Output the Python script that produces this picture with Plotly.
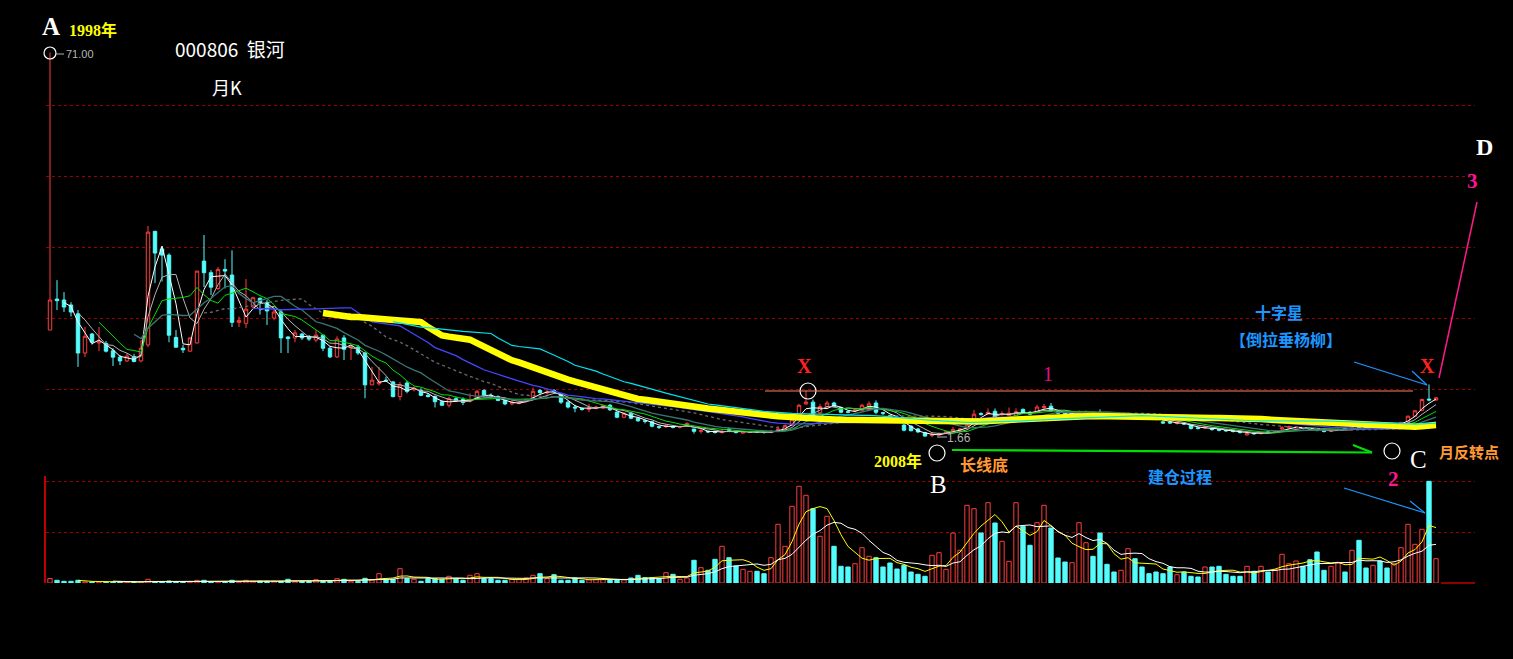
import math
import pandas as pd
import plotly.graph_objects as go

# ---------------- data (monthly candles, 000806, forward-adjusted) ----------------
opens = [4.73, 6.40, 6.34, 6.04, 5.54, 3.78, 4.55, 4.17, 4.15, 3.86,
         3.63, 3.50, 3.65, 3.50, 4.09, 12.40, 10.44, 9.83, 4.40, 3.96,
         3.85, 4.17, 9.27, 8.28, 7.10, 8.55, 8.09, 5.10, 5.05, 5.93,
         6.45, 6.20, 5.32, 5.64, 4.42, 4.38, 4.55, 4.45, 4.29, 4.50,
         3.96, 3.64, 4.38, 3.98, 4.00, 3.78, 2.77, 2.80, 2.90, 2.85,
         2.47, 2.82, 2.64, 2.63, 2.50, 2.47, 2.35, 2.27, 2.42, 2.40,
         2.36, 2.42, 2.62, 2.49, 2.47, 2.38, 2.30, 2.31, 2.37, 2.45,
         2.62, 2.56, 2.62, 2.52, 2.34, 2.23, 2.20, 2.18, 2.20, 2.21,
         2.27, 2.12, 2.02, 2.10, 2.00, 1.95, 1.93, 1.84, 1.84, 1.84,
         1.83, 1.86, 1.80, 1.76, 1.76, 1.76, 1.74, 1.80, 1.76, 1.73,
         1.74, 1.76, 1.75, 1.74, 1.77, 1.80, 1.87, 2.06, 2.30, 2.34,
         2.11, 2.24, 2.32, 2.22, 2.13, 2.15, 2.16, 2.18, 2.32, 2.11,
         2.05, 2.02, 1.87, 1.85, 1.80, 1.74, 1.69, 1.70, 1.73, 1.76,
         1.78, 1.82, 1.98, 2.09, 2.09, 2.14, 2.07, 2.05, 2.02, 2.18,
         2.12, 2.12, 2.22, 2.25, 2.13, 2.11, 2.08, 2.10, 2.11, 2.11,
         2.12, 2.09, 2.06, 2.03, 2.02, 2.03, 2.03, 2.03, 2.00, 1.93,
         1.92, 1.90, 1.90, 1.88, 1.82, 1.82, 1.81, 1.79, 1.78, 1.77,
         1.76, 1.70, 1.73, 1.72, 1.75, 1.74, 1.80, 1.82, 1.82, 1.82,
         1.81, 1.79, 1.77, 1.76, 1.78, 1.81, 1.81, 1.84, 1.84, 1.83,
         1.85, 1.88, 1.86, 1.87, 1.93, 2.04, 2.16, 2.41, 2.39]

highs = [71.00, 7.70, 6.85, 6.21, 5.75, 4.87, 4.60, 4.87, 4.25, 3.96,
         3.71, 3.78, 3.75, 4.29, 13.07, 12.45, 10.75, 10.00, 4.73, 4.09,
         4.40, 8.41, 11.96, 8.49, 8.75, 9.45, 10.30, 5.40, 7.78, 6.55,
         6.50, 6.34, 5.86, 5.75, 4.45, 4.73, 4.60, 4.50, 4.73, 4.50,
         4.05, 4.45, 4.50, 4.09, 4.09, 3.82, 3.30, 3.30, 3.00, 2.88,
         2.85, 2.88, 2.72, 2.68, 2.55, 2.50, 2.38, 2.47, 2.47, 2.45,
         2.55, 2.64, 2.66, 2.55, 2.50, 2.40, 2.38, 2.35, 2.42, 2.70,
         2.66, 2.64, 2.66, 2.55, 2.36, 2.28, 2.22, 2.30, 2.26, 2.28,
         2.30, 2.14, 2.12, 2.12, 2.02, 1.97, 1.95, 1.86, 1.88, 1.86,
         1.86, 1.92, 1.80, 1.80, 1.77, 1.77, 1.80, 1.82, 1.77, 1.76,
         1.77, 1.77, 1.76, 1.78, 1.85, 1.88, 1.97, 2.30, 2.62, 2.40,
         2.30, 2.37, 2.35, 2.24, 2.16, 2.20, 2.30, 2.36, 2.38, 2.13,
         2.07, 2.03, 1.89, 1.87, 1.82, 1.75, 1.74, 1.74, 1.77, 1.84,
         1.82, 1.89, 2.17, 2.12, 2.20, 2.20, 2.14, 2.22, 2.20, 2.20,
         2.14, 2.28, 2.30, 2.32, 2.16, 2.13, 2.12, 2.16, 2.16, 2.13,
         2.18, 2.11, 2.08, 2.06, 2.12, 2.05, 2.05, 2.05, 2.02, 1.95,
         1.94, 1.93, 1.92, 1.89, 1.84, 1.86, 1.83, 1.80, 1.79, 1.78,
         1.77, 1.74, 1.74, 1.75, 1.76, 1.78, 1.85, 1.86, 1.85, 1.83,
         1.82, 1.80, 1.78, 1.79, 1.81, 1.82, 1.84, 1.86, 1.85, 1.86,
         1.86, 1.89, 1.90, 1.93, 2.05, 2.16, 2.42, 2.78, 2.46]

lows = [4.73, 5.75, 5.64, 5.40, 3.30, 3.63, 4.10, 3.85, 3.80, 3.33,
        3.36, 3.46, 3.45, 3.45, 4.00, 7.48, 7.60, 4.20, 4.00, 3.78,
        3.82, 4.15, 7.19, 6.66, 6.99, 7.10, 4.87, 4.87, 4.82, 5.85,
        5.50, 4.97, 5.20, 3.78, 3.78, 4.20, 4.30, 4.25, 4.20, 3.85,
        3.60, 3.60, 3.53, 3.53, 3.71, 2.43, 2.77, 2.75, 2.85, 2.45,
        2.38, 2.55, 2.60, 2.48, 2.45, 2.22, 2.25, 2.22, 2.35, 2.27,
        2.33, 2.40, 2.45, 2.42, 2.36, 2.27, 2.27, 2.29, 2.35, 2.42,
        2.52, 2.52, 2.55, 2.30, 2.20, 2.12, 2.15, 2.12, 2.18, 2.19,
        2.15, 2.00, 2.00, 1.98, 1.93, 1.90, 1.83, 1.80, 1.82, 1.81,
        1.81, 1.84, 1.72, 1.72, 1.73, 1.72, 1.72, 1.77, 1.72, 1.72,
        1.73, 1.73, 1.72, 1.73, 1.75, 1.78, 1.85, 2.03, 2.28, 2.02,
        2.08, 2.22, 2.22, 2.10, 2.10, 2.12, 2.15, 2.16, 2.08, 2.06,
        2.00, 1.95, 1.76, 1.76, 1.73, 1.67, 1.66, 1.69, 1.72, 1.75,
        1.76, 1.80, 1.96, 2.05, 2.07, 2.01, 2.05, 2.04, 2.01, 2.09,
        2.06, 2.10, 2.18, 2.13, 2.08, 2.07, 2.06, 2.06, 2.08, 2.07,
        2.09, 2.05, 2.01, 2.01, 2.01, 1.99, 2.00, 1.99, 1.96, 1.89,
        1.89, 1.88, 1.87, 1.79, 1.79, 1.80, 1.77, 1.76, 1.75, 1.74,
        1.72, 1.69, 1.70, 1.71, 1.72, 1.73, 1.78, 1.80, 1.81, 1.79,
        1.78, 1.76, 1.74, 1.75, 1.77, 1.79, 1.80, 1.82, 1.82, 1.82,
        1.83, 1.86, 1.85, 1.86, 1.92, 2.03, 2.14, 2.36, 2.37]

closes = [6.34, 6.30, 5.92, 5.64, 3.78, 4.45, 4.20, 4.22, 3.85, 3.63,
          3.50, 3.67, 3.48, 3.96, 12.30, 10.03, 9.83, 4.50, 4.00, 3.90,
          4.38, 8.41, 8.28, 7.19, 8.55, 8.41, 5.10, 5.20, 5.80, 6.48,
          6.20, 5.70, 5.64, 4.38, 4.35, 4.60, 4.38, 4.33, 4.50, 3.96,
          3.64, 4.33, 3.92, 4.02, 3.78, 2.77, 2.90, 2.85, 2.88, 2.47,
          2.77, 2.60, 2.68, 2.50, 2.47, 2.35, 2.27, 2.42, 2.38, 2.33,
          2.40, 2.60, 2.47, 2.46, 2.38, 2.30, 2.33, 2.32, 2.40, 2.60,
          2.57, 2.58, 2.60, 2.34, 2.23, 2.21, 2.18, 2.21, 2.23, 2.26,
          2.17, 2.02, 2.10, 2.00, 1.95, 1.94, 1.85, 1.83, 1.86, 1.83,
          1.84, 1.90, 1.76, 1.77, 1.75, 1.74, 1.76, 1.78, 1.74, 1.75,
          1.75, 1.74, 1.74, 1.76, 1.80, 1.86, 1.97, 2.27, 2.34, 2.03,
          2.24, 2.32, 2.24, 2.12, 2.12, 2.17, 2.27, 2.30, 2.12, 2.10,
          2.03, 1.97, 1.78, 1.77, 1.75, 1.68, 1.70, 1.72, 1.75, 1.79,
          1.80, 1.87, 2.08, 2.08, 2.12, 2.03, 2.09, 2.10, 2.13, 2.11,
          2.08, 2.23, 2.24, 2.15, 2.10, 2.09, 2.10, 2.12, 2.13, 2.10,
          2.11, 2.06, 2.03, 2.04, 2.03, 2.01, 2.02, 2.01, 1.98, 1.91,
          1.91, 1.91, 1.89, 1.81, 1.81, 1.84, 1.79, 1.78, 1.77, 1.76,
          1.74, 1.72, 1.72, 1.73, 1.74, 1.76, 1.82, 1.84, 1.83, 1.81,
          1.80, 1.78, 1.76, 1.77, 1.79, 1.80, 1.82, 1.83, 1.83, 1.84,
          1.84, 1.87, 1.88, 1.92, 2.04, 2.15, 2.40, 2.39, 2.44]

volumes = [4.5, 2.7, 1.7, 1.7, 2.7, 1, 1, 1, 1, 1,
           1, 1, 1, 1, 3.7, 1, 1, 2, 1, 1,
           1, 2.7, 2.7, 1, 1, 1, 2.7, 1, 2.7, 1.7,
           1.7, 1.7, 1.7, 1.7, 3.7, 1.7, 1.7, 1.7, 3.3, 1.7,
           1.7, 4.3, 3.7, 1.7, 1.7, 4.7, 3.3, 9.3, 3.7, 3.7,
           14.3, 4.3, 3.7, 1.7, 4.3, 4.3, 3.7, 6.7, 4.3, 2.7,
           7.7, 9.3, 4.3, 4.3, 2.7, 2.7, 3.7, 3.7, 5, 7.7,
           9.3, 4.3, 8.3, 2.7, 2.7, 5, 2.7, 3.3, 3.3, 3.3,
           3.3, 3.3, 3.3, 5, 7.7, 5.3, 5.3, 4.3, 10.3, 8.7,
           3.7, 5, 22.7, 15.3, 12.7, 23.7, 36.7, 25.3, 17, 13.7,
           11.7, 11.7, 9.3, 25.3, 58.7, 36.7, 76.7, 96.7, 87.7, 74.3,
           46.7, 66.7, 36.7, 16.7, 16, 19.3, 35.3, 26.7, 25.3, 16,
           20, 14, 17.7, 11, 8.7, 6.7, 27.7, 30.3, 13.7, 50,
           32.7, 77.7, 74.3, 50, 80.3, 60, 41.7, 21.7, 80.3, 56.7,
           37.7, 60.3, 77.7, 55, 25, 21, 20.3, 60.3, 40.3, 26.7,
           50, 18.7, 11, 12.7, 34.3, 24.3, 16, 9.3, 11, 9.3,
           16, 8.3, 11, 6.7, 6, 16, 16, 16.7, 8.7, 6.7,
           6.7, 16.7, 11.7, 16.7, 11, 13.3, 28.7, 19.3, 22, 16.7,
           23.3, 31, 12.7, 16.7, 20, 11, 32.7, 42.7, 15, 17.7,
           22, 15, 19.3, 35.3, 58.7, 38.7, 53.7, 101.7, 24.3]

price_ma = [(3, '#ffffff', 1, 'solid'), (5, '#b4b4b4', 1, 'solid'),
            (8, '#00e000', 1, 'solid'), (13, '#3c7474', 1.3, 'solid'),
            (23, '#6a6a6a', 1.3, 'dot'), (30, '#4646ff', 1.3, 'solid'),
            (40, '#ffff00', 6.5, 'solid'), (50, '#00e4f4', 1.2, 'solid')]
vol_ma = [(5, '#ffff00'), (10, '#ffffff')]
grid_prices = [2.66, 5.32, 10.64, 21.28, 42.56]

# ---------------- figure ----------------
RED, CYAN = '#ff3c3c', '#54fcfc'
W, H = 1513, 659
L, R, T, B = 46, 1475, 20, 583
PRICE_BOTTOM_PX, VOL_TOP_PX = 465, 476

n = len(closes)
assert len(opens) == len(highs) == len(lows) == n == len(volumes)
idx = list(range(n))
xr = [-(50 - L) / 7.0, -(50 - L) / 7.0 + (R - L) / 7.0]


def pp(x, y):
    return (x - L) / (R - L), (B - y) / (B - T)


fig = go.Figure()
fig.add_trace(go.Candlestick(
    x=idx, open=opens, high=highs, low=lows, close=closes,
    increasing=dict(line=dict(color=RED, width=1), fillcolor='#000000'),
    decreasing=dict(line=dict(color=CYAN, width=1), fillcolor=CYAN),
    whiskerwidth=0, xaxis='x', yaxis='y', showlegend=False, hoverinfo='skip'))

cs = pd.Series(closes)
for win, col, wd, dash in price_ma:
    fig.add_trace(go.Scatter(x=idx, y=cs.rolling(win).mean(), mode='lines',
                             line=dict(color=col, width=wd, dash=dash),
                             xaxis='x', yaxis='y', showlegend=False, hoverinfo='skip'))

up = [c >= o for o, c in zip(opens, closes)]
fig.add_trace(go.Bar(
    x=idx, y=volumes, width=0.62,
    marker=dict(color=['#000000' if u else CYAN for u in up],
                line=dict(color=[RED if u else CYAN for u in up], width=1)),
    xaxis='x2', yaxis='y2', showlegend=False, hoverinfo='skip'))
vs = pd.Series(volumes)
for win, col in vol_ma:
    fig.add_trace(go.Scatter(x=idx, y=vs.rolling(win).mean(), mode='lines',
                             line=dict(color=col, width=1),
                             xaxis='x2', yaxis='y2', showlegend=False, hoverinfo='skip'))

ylo = math.log10(2.66) - (PRICE_BOTTOM_PX - 389) * math.log10(2) / 71
yhi = math.log10(2.66) + (389 - T) * math.log10(2) / 71

fig.update_layout(
    width=W, height=H, margin=dict(l=L, r=W - R, t=T, b=H - B),
    paper_bgcolor='#000000', plot_bgcolor='#000000', showlegend=False,
    xaxis=dict(domain=[0, 1], range=xr, anchor='y', showgrid=False, zeroline=False,
               showticklabels=False, ticks='', rangeslider=dict(visible=False), fixedrange=True),
    yaxis=dict(domain=[(B - PRICE_BOTTOM_PX) / (B - T), 1], type='log', range=[ylo, yhi],
               anchor='x', tickvals=grid_prices, showticklabels=False, ticks='',
               gridcolor='#9a0000', griddash='dot', gridwidth=1, zeroline=False),
    xaxis2=dict(domain=[0, 1], range=xr, anchor='y2', showgrid=False, zeroline=False,
                showticklabels=False, ticks=''),
    yaxis2=dict(domain=[0, (B - VOL_TOP_PX) / (B - T)], range=[0, B - VOL_TOP_PX], anchor='x2',
                tickvals=[51, 102], showticklabels=False, ticks='',
                gridcolor='#9a0000', griddash='dot', gridwidth=1, zeroline=False,
                showline=True, linecolor='#c00000', linewidth=2),
)

shapes = []


def line(x0, y0, x1, y1, color, width=1, dash='solid'):
    a, b = pp(x0, y0)
    c, d = pp(x1, y1)
    shapes.append(dict(type='line', xref='paper', yref='paper', x0=a, y0=b, x1=c, y1=d,
                       line=dict(color=color, width=width, dash=dash)))


def circle(cx, cy, r, color='#ffffff'):
    a, b = pp(cx - r, cy + r)
    c, d = pp(cx + r, cy - r)
    shapes.append(dict(type='circle', xref='paper', yref='paper', x0=a, y0=b, x1=c, y1=d,
                       line=dict(color=color, width=1.2)))


circle(50, 53, 6)
circle(808, 391, 8)
circle(937, 453, 8)
circle(1392, 451, 8)
line(56, 54, 64, 54, '#b0b0b0')
line(937, 437, 947, 437, '#b0b0b0')
line(765, 391, 1413, 391, '#ff8060', 1)
line(1439, 378, 1477, 202, '#ff1a8c', 1.5)
BLUE = '#1e96ff'
line(1354, 362, 1427, 385, BLUE, 1.2)
line(1412, 371, 1427, 385, BLUE, 1.2)
line(1344, 488, 1425, 513, BLUE, 1.2)
line(1410, 501, 1425, 513, BLUE, 1.2)
line(952, 450, 1372, 452.5, '#00e000', 2.2)
line(1353, 445, 1372, 452.5, '#00e000', 2.2)
line(1441, 583, 1475, 583, '#8b0000', 2)
fig.update_layout(shapes=shapes)

SERIF = 'Liberation Serif, Noto Sans CJK SC'
CJK = 'Noto Sans CJK SC'
anns = []


def text(t, x, y, color, size, family=CJK, bold=True):
    a, b = pp(x, y)
    anns.append(dict(text=('<b>%s</b>' % t) if bold else t, x=a, y=b, xref='paper', yref='paper',
                     showarrow=False, xanchor='center', yanchor='middle',
                     font=dict(color=color, size=size, family=family)))


text('A', 51, 27, '#ffffff', 25, SERIF)
text('1998年', 93, 30, '#ffff00', 16, SERIF)
text('71.00', 80, 54, '#b8b8b8', 11, 'Liberation Sans', False)
text('000806  银河', 230, 48, '#ffffff', 19, CJK, False)
text('月K', 227, 87, '#ffffff', 18, CJK, False)
text('D', 1484, 147, '#ffffff', 24, SERIF)
text('3', 1472, 181, '#ff1493', 21, SERIF)
text('X', 1427, 366, '#ff2020', 20, SERIF)
text('X', 804, 366, '#ff2020', 20, SERIF)
text('1', 1048, 374, '#e0108c', 20, SERIF, False)
text('十字星', 1279, 312, BLUE, 16)
text('【倒拉垂杨柳】', 1286, 339, BLUE, 16)
text('1.66', 959, 438, '#b0b0b0', 12, 'Liberation Sans', False)
text('2008年', 898, 461, '#ffff00', 16, SERIF)
text('B', 938, 484, '#ffffff', 25, SERIF, False)
text('长线底', 984, 464, '#ff9933', 16)
text('建仓过程', 1180, 476, BLUE, 16)
text('C', 1418, 459, '#ffffff', 25, SERIF, False)
text('月反转点', 1469, 451, '#ff9933', 15)
text('2', 1393, 479, '#ff1493', 21, SERIF)
fig.update_layout(annotations=anns)

fig.write_html('out.html', config={'displayModeBar': False},
               post_script="document.body.style.margin='0';"
                           "document.body.style.background='#000';"
                           "document.documentElement.style.background='#000';")
